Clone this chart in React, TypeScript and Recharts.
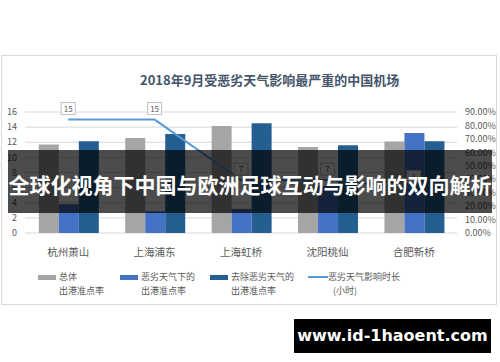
import { Bar, CartesianGrid, ComposedChart, LabelList, Line, XAxis, YAxis } from 'recharts'

const airports = ['杭州萧山', '上海浦东', '上海虹桥', '沈阳桃仙', '合肥新桥']
const overallRate = [65.8, 70.7, 79.6, 64.0, 68.0]
const badWeatherRate = [21.4, 16.1, 17.9, 35.0, 74.4]
const excludingBadRate = [68.2, 73.7, 81.6, 65.3, 68.2]
const delayHours = [15, 15, 7, 7, 6]

const hourTicks = [0, 2, 4, 6, 8, 10, 12, 14, 16]
const rateTicks = [0, 10, 20, 30, 40, 50, 60, 70, 80, 90]

const chartTitle = '2018年9月受恶劣天气影响最严重的中国机场'
const bannerText = '全球化视角下中国与欧洲足球互动与影响的双向解析'
const watermark = 'www.id-1haoent.com'

const legendItems = [
  { lines: ['总体', '出港准点率'], color: '#a5a5a5', kind: 'bar' },
  { lines: ['恶劣天气下的', '出港准点率'], color: '#4472c4', kind: 'bar' },
  { lines: ['去除恶劣天气的', '出港准点率'], color: '#255e91', kind: 'bar' },
  { lines: ['恶劣天气影响时长', '(小时)'], color: '#5b9bd5', kind: 'line' }
]

const chartData = airports.map((name, i) => ({
  name,
  overall: overallRate[i],
  bad: badWeatherRate[i],
  excluding: excludingBadRate[i],
  hours: delayHours[i]
}))

const font = '"Noto Sans CJK SC", "Noto Sans", sans-serif'
const axisText = '#595959'

function CalloutLabel(props: any) {
  const { x, y, value } = props
  return (
    <g>
      <rect x={x - 7} y={y - 17} width={14} height={12} fill="#fff" stroke="#bfbfbf" strokeWidth={1} />
      <text x={x} y={y - 8} textAnchor="middle" fontSize={8} fill={axisText} fontFamily={font}>
        {value}
      </text>
    </g>
  )
}

const legendLeft = [38, 120, 210, 308]

export default function App() {
  return (
    <div style={{ position: 'absolute', left: 0, top: 0, width: 500, height: 362, background: '#fff', fontFamily: font }}>
      <div
        style={{
          position: 'absolute',
          left: 1,
          top: 55,
          width: 496,
          height: 250,
          border: '1px solid #d9d9d9',
          boxSizing: 'border-box'
        }}
      />
      <div
        style={{
          position: 'absolute',
          left: 140,
          top: 71,
          fontSize: 13,
          fontWeight: 700,
          color: '#44546a',
          whiteSpace: 'nowrap',
          lineHeight: '18px'
        }}
      >
        {chartTitle}
      </div>
      <div style={{ position: 'absolute', left: 0, top: 0 }}>
        <ComposedChart
          width={500}
          height={362}
          data={chartData}
          margin={{ top: 112, right: 0, bottom: 99, left: 0 }}
          barGap={0}
          barCategoryGap="16%"
        >
          <CartesianGrid yAxisId="left" vertical={false} stroke="#d9d9d9" />
          <XAxis
            dataKey="name"
            axisLine={false}
            tickLine={false}
            tickMargin={10}
            height={30}
            tick={{ fontSize: 10.5, fill: axisText, fontFamily: font }}
          />
          <YAxis
            yAxisId="left"
            domain={[0, 16]}
            ticks={hourTicks}
            width={25}
            axisLine={false}
            tickLine={false}
            interval={0}
            tick={{ fontSize: 9, fill: axisText, fontFamily: font }}
          />
          <YAxis
            yAxisId="right"
            orientation="right"
            domain={[0, 90]}
            ticks={rateTicks}
            width={43}
            axisLine={false}
            tickLine={false}
            interval={0}
            tickFormatter={(v: number) => `${v.toFixed(2)}%`}
            tick={{ fontSize: 9, fill: axisText, fontFamily: font }}
          />
          <Bar yAxisId="right" dataKey="overall" fill="#a5a5a5" isAnimationActive={false} />
          <Bar yAxisId="right" dataKey="bad" fill="#4472c4" isAnimationActive={false} />
          <Bar yAxisId="right" dataKey="excluding" fill="#255e91" isAnimationActive={false} />
          <Line
            yAxisId="left"
            type="linear"
            dataKey="hours"
            stroke="#5b9bd5"
            strokeWidth={2}
            dot={false}
            isAnimationActive={false}
          >
            <LabelList dataKey="hours" content={CalloutLabel} />
          </Line>
        </ComposedChart>
      </div>
      {legendItems.map((item, i) => (
        <div
          key={i}
          style={{ position: 'absolute', left: legendLeft[i], top: 270, fontSize: 9, color: axisText, lineHeight: '14px' }}
        >
          <div style={{ display: 'flex', alignItems: 'center' }}>
            <span
              style={{
                display: 'inline-block',
                width: item.kind === 'bar' ? 18 : 20,
                height: item.kind === 'bar' ? 5 : 2,
                background: item.color,
                marginRight: item.kind === 'bar' ? 3 : 0
              }}
            />
            <span style={{ whiteSpace: 'nowrap' }}>{item.lines[0]}</span>
          </div>
          <div style={{ paddingLeft: item.kind === 'bar' ? 21 : 25, whiteSpace: 'nowrap' }}>{item.lines[1]}</div>
        </div>
      ))}
      <div
        style={{
          position: 'absolute',
          left: 8,
          top: 150,
          width: 484,
          height: 63,
          background: 'rgba(0,0,0,0.7)',
          color: '#fff',
          fontSize: 21,
          fontWeight: 700,
          lineHeight: '68px',
          textAlign: 'center',
          whiteSpace: 'nowrap'
        }}
      >
        {bannerText}
      </div>
      <div
        style={{
          position: 'absolute',
          left: 294,
          top: 319,
          width: 197,
          height: 34,
          background: '#000',
          color: '#fff',
          fontFamily: '"DejaVu Sans", sans-serif',
          fontWeight: 700,
          fontSize: 16,
          lineHeight: '34px',
          textAlign: 'center'
        }}
      >
        {watermark}
      </div>
    </div>
  )
}
